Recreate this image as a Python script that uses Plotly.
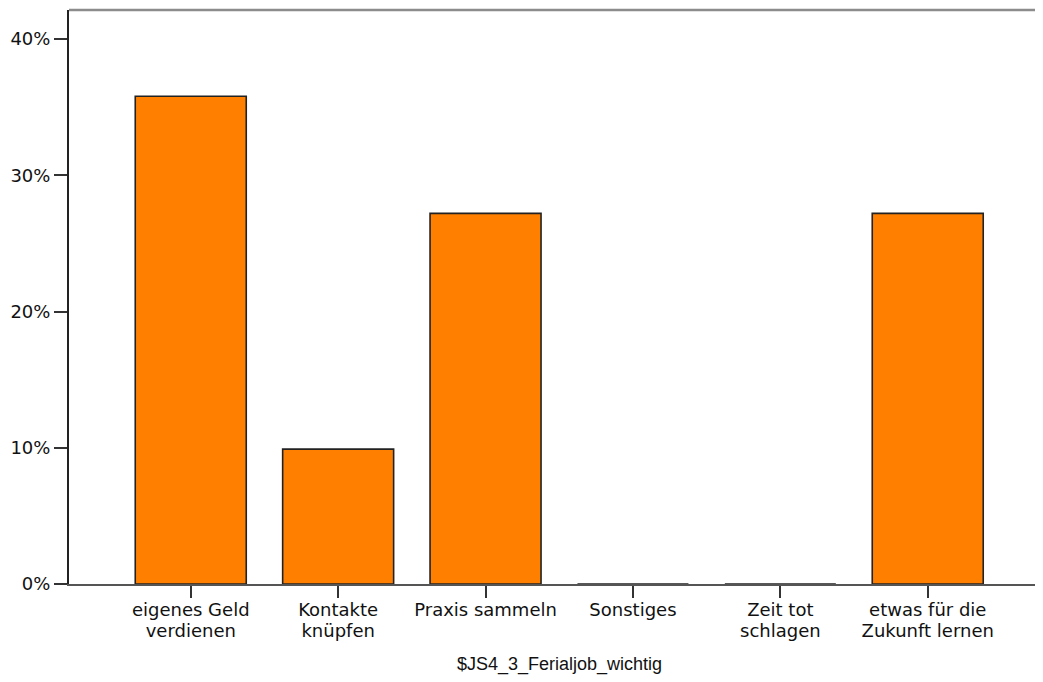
import plotly.graph_objects as go

categories = ["eigenes Geld<br>verdienen", "Kontakte<br>knüpfen", "Praxis sammeln",
              "Sonstiges", "Zeit tot<br>schlagen", "etwas für die<br>Zukunft lernen"]
percent = [35.8, 9.9, 27.2, 0.0, 0.0, 27.2]
y_ticks = [0, 10, 20, 30, 40]
y_tick_labels = ["0%", "10%", "20%", "30%", "40%"]
x_title = "$JS4_3_Ferialjob_wichtig"

tick_text = ['<span style="font-size:18px">' + c.replace("<br>", '</span><br><span style="font-size:18px">') + "</span>"
             for c in categories]

fig = go.Figure()
fig.add_trace(go.Bar(
    x=list(range(len(categories))),
    y=percent,
    marker=dict(color="#FF8000", line=dict(color="#222222", width=1.6)),
    hoverinfo="skip",
))

# page has an 8px body margin, so the figure is sized/offset to compensate
fig.update_layout(
    width=1035, height=674,
    margin=dict(l=61, r=0, t=2, b=98),
    paper_bgcolor="white", plot_bgcolor="white",
    bargap=0.247,
    showlegend=False,
    font=dict(family="DejaVu Sans", color="#111111"),
)
fig.update_xaxes(
    tickmode="array", tickvals=list(range(len(categories))), ticktext=tick_text,
    range=[-0.826, 5.782],
    showline=True, linecolor="#555555", linewidth=2,
    ticks="outside", ticklen=12, tickwidth=2, tickcolor="#333333",
    tickfont=dict(family="DejaVu Sans", size=15.4, color="#111111"),
    showgrid=False, zeroline=False,
)
fig.update_yaxes(
    tickmode="array", tickvals=y_ticks, ticktext=y_tick_labels,
    range=[0, 42.13],
    showline=True, linecolor="#222222", linewidth=2,
    ticks="outside", ticklen=13, tickwidth=2, tickcolor="#333333",
    tickfont=dict(family="DejaVu Sans", size=18, color="#111111"),
    showgrid=False, zeroline=False,
)
fig.add_shape(type="line", xref="paper", yref="paper", x0=0, x1=1, y0=1, y1=1,
              line=dict(color="#8c8c8c", width=2.5))
fig.add_annotation(x=2.5, xref="x", y=-0.141, yref="paper", text=x_title,
                   showarrow=False, yanchor="middle",
                   font=dict(family="Liberation Sans", size=18, color="#111111"))

fig.write_html("out.html")
